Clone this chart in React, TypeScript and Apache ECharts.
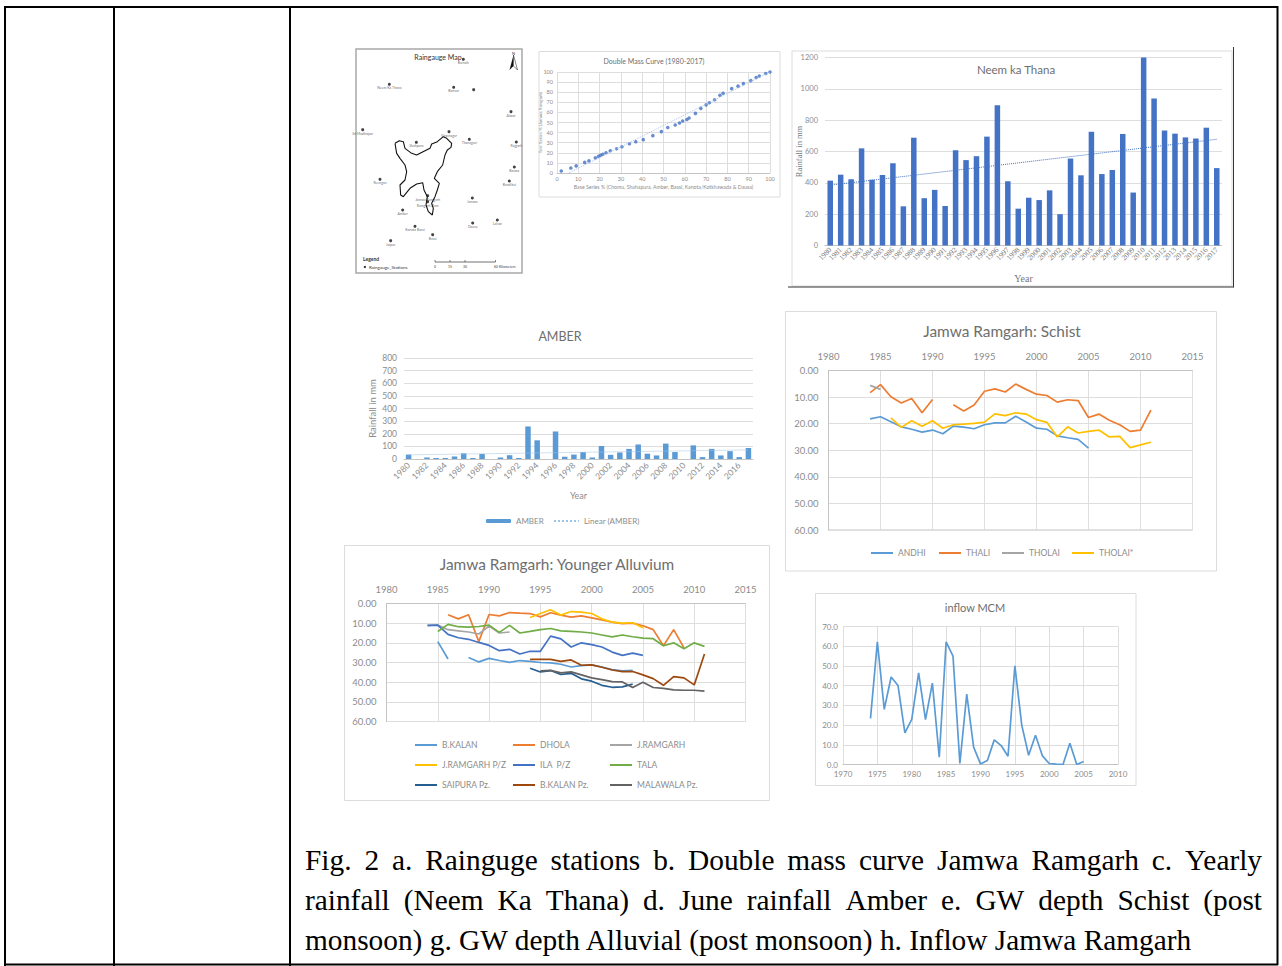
import React, { useEffect, useRef } from "react";
import * as echarts from "echarts";

// ---------- data ----------
const mapBoundary: number[][] = [[135,310],[148,302],[160,305],[165,325],[185,340],[200,345],[225,332],[240,325],[245,312],[262,305],[280,290],[290,295],[305,310],[303,322],[292,330],[285,345],[278,375],[262,395],[253,415],[268,430],[262,450],[255,470],[245,490],[250,505],[247,525],[235,515],[228,495],[232,470],[222,450],[218,428],[200,432],[180,445],[160,470],[152,465],[150,435],[165,420],[170,395],[165,375],[150,355],[140,340],[135,310]];
const mapStations: [number, number, string][] = [[340,58,"Bairath"],[118,133,"Neem Ka Thana"],[311,142,"Bansur"],[371,149,""],[483,215,"Alwar"],[38,269,"Sri Madhopur"],[297,275,"Viratnagar"],[199,307,"Shahpura"],[358,298,"Thanagazi"],[499,306,"Rajgarh"],[493,381,"Baswa"],[478,423,"Bandikui"],[90,418,"Reengus"],[367,474,"Jamwa"],[233,467,"Jamwa Ramgarh"],[233,485,"Ramgarh Dam"],[158,510,"Amber"],[195,559,"Kanota Bassi"],[368,549,"Dausa"],[442,540,"Lalsot"],[248,584,"Bassi"],[122,602,"Jaipur"]];

const dmBase = [2,6.5,9,13,15,18,19.5,20.5,21.5,23,25,28,30.5,34,37,40.5,45,49,52,55.5,57.5,59,61,62,65,67.5,70,71.5,74,76.5,78,82,85,87.5,91,93.5,95,98,100];
const dmTest = [2,5,7,10.5,12,15,16.5,17.5,18.5,20,22,24,26,29,31,33,37,41,45,47.5,49.5,51.5,53,54.5,59,64,67.5,69.5,72.5,77,79,83.5,86,88.5,91.5,94.5,96,98.5,100];
const dmTrend = [[5.5,0],[100,100]];

const neemYears = ["1980","1981","1982","1983","1984","1985","1986","1987","1988","1989","1990","1991","1992","1993","1994","1995","1996","1997","1998","1999","2000","2001","2002","2003","2004","2005","2006","2007","2008","2009","2010","2011","2012","2013","2014","2015","2016","2017"];
const neemRain = [414,452,423,620,420,450,525,250,688,302,355,252,608,545,570,695,895,410,235,305,290,352,200,555,448,726,456,482,712,338,1200,938,734,714,690,683,752,494];
const neemTrendEnds = [385,678];
const amberRain = [35,0,12,8,8,20,45,8,40,0,12,30,8,258,148,0,218,18,35,55,12,103,33,52,80,115,42,28,122,55,0,108,15,80,28,62,15,87];
const amberTrendEnds = [33,72];

const andhi = [18.2,17.4,19.3,21.2,22.1,23.2,22.4,23.8,20.9,21.3,21.9,20.4,19.7,19.7,17.2,19.4,21.7,22.1,24.6,25.3,25.9,29.2];
const thali = [8.3,5.3,9.9,12.2,10.5,15.9,10.9,null,12.9,15.2,13,7.8,6.9,8.1,5.1,7.1,8.9,9.4,11.9,11,11.3,17.7,16.4,18.7,20.4,22.9,22.4,14.9];
const tholai = [5.6,7.1];
const tholaiStar = [17.8,21.4,18.9,21,18.9,21.7,20.4,20.2,19.9,19.4,16.3,17,15.9,16.4,18.5,19.5,25,21.2,23.5,22.9,22.4,25,24.8,29,28,27];

const bKalan = [19.4,28.2,null,27.5,29.7,27.9,29,29.9,29,29.4,30,30.2,30.9,32.3,31.6,31.2,32.3,33.6,34.3,34];
const dhola = [5.7,7.8,5.7,19.4,5.6,6.3,4.6,4.9,5.1,6.8,4.7,5.9,6.9,6.3,7.3,8.3,9.5,10.3,10,11.3,13.3,21.5,13.3,22.6];
const jRamgarh = [11,11,13.3,13.9,14.5,15.5,11.5,15,14.5];
const jRamgarhPz = [7.1,5.1,3.2,5.9,4.1,4.4,5.1,7.8,9.5,10,9.8,12.3];
const ilaPz = [11.3,11,15.7,17.4,18.2,19.8,21.3,24,23.3,25.7,24.3,24.3,16.6,18,22.1,20,20.9,22.1,24.7,26.4,25.2,26.4];
const tala = [14.2,10.6,11.8,12,11.7,11,14.7,11.1,15,14.2,13.3,12.7,13.9,14.2,14.5,15,16,17,16,16.9,17.6,17.9,21.5,20,23,20,21.8];
const saipuraPz = [32.9,34.8,34.1,36.1,35.5,38.3,39.5,41.6,42.6,42.4,41];
const bKalanPz = [28.4,28.4,28.4,29.4,28.7,31.4,31.2,32.4,33.8,34.6,34.6,36.3,38.2,41.6,37.2,37.8,41.4,25.7];
const malawalaPz = [34.3,34,35.3,34.8,36.3,37.8,38.7,39.7,39.9,42.7,40,42.7,43.2,43.9,44.1,44.1,44.6];

const inflow = [23.4,62.2,28,44.4,40.1,16,22.9,46.5,22.8,41.3,3.7,62.2,55,0.5,35.7,8.8,0.3,2,12.5,9.6,4.2,50,20,4.7,14.8,4.4,0.5,0.2,0,10.8,0,1.5];

const captionLines = [
  "Fig. 2 a. Rainguge stations b. Double mass curve Jamwa Ramgarh c. Yearly",
  "rainfall (Neem Ka Thana) d. June rainfall Amber e. GW depth Schist (post",
  "monsoon) g. GW depth Alluvial (post monsoon) h. Inflow Jamwa Ramgarh",
];

// ---------- helpers ----------
const SANS = "Lato, 'Noto Sans', sans-serif";
const SERIF = "'Liberation Serif', serif";
const TICK = "#8c8c8c";
const GRID = "#dedede";
const pairs = (start: number, vals: (number | null)[]) => vals.map((v, i) => [start + i, v]);
const ends = (n: number, e: number[]) => Array.from({ length: n }, (_, i) => (i === 0 ? e[0] : i === n - 1 ? e[1] : null));
const plain = (v: number) => String(v);

function hiddenAxis(gridIndex: number, min: number, max: number, inverse = false) {
  return { type: "value", gridIndex, min, max, inverse, show: false };
}
function valX(gridIndex: number, min: number, max: number, interval: number, fontSize: number, extra: any = {}) {
  return {
    type: "value", gridIndex, min, max, interval,
    axisLine: { show: true, lineStyle: { color: "#c4c4c4" } }, axisTick: { show: false },
    axisLabel: { fontSize, color: TICK, fontFamily: SANS, formatter: plain, margin: 5 },
    splitLine: { show: true, lineStyle: { color: GRID, width: 1 } }, ...extra,
  };
}
function valY(gridIndex: number, min: number, max: number, interval: number, fontSize: number, extra: any = {}) {
  return {
    type: "value", gridIndex, min, max, interval,
    axisLine: { show: false }, axisTick: { show: false },
    axisLabel: { fontSize, color: TICK, fontFamily: SANS, formatter: plain, margin: 7 },
    splitLine: { show: true, lineStyle: { color: GRID, width: 1 } }, ...extra,
  };
}
function title(text: string, cx: number, top: number, fontSize: number, color = "#6e6e6e") {
  return { text, left: cx, top, textAlign: "center", padding: 0, textStyle: { fontSize, fontWeight: "normal", color, fontFamily: SANS } };
}
function line(name: string, x: number, y: number, data: any[], color: string, width = 1.7, type = "solid", connectNulls = false) {
  return { type: "line", name, xAxisIndex: x, yAxisIndex: y, data, symbol: "none", connectNulls, lineStyle: { color, width, type }, itemStyle: { color }, silent: true };
}
function legendItem(name: string, left: number, cy: number, iw = 22, ih = 2, fontSize = 8.5) {
  return {
    data: [name], left, top: cy - 6, padding: 0, itemWidth: iw, itemHeight: ih, selectedMode: false,
    textStyle: { fontSize, color: "#8c8c8c", fontFamily: SANS, lineHeight: 12 },
  };
}
function gLine(x1: number, y1: number, x2: number, y2: number, stroke = "#000", lineWidth = 2) {
  return { type: "line", silent: true, shape: { x1, y1, x2, y2 }, style: { stroke, lineWidth } };
}
function gBox(x: number, y: number, width: number, height: number, stroke = "#dcdcdc", lineWidth = 1) {
  return { type: "rect", silent: true, shape: { x, y, width, height }, style: { fill: "none", stroke, lineWidth } };
}
function gText(text: string, x: number, y: number, font: string, fill = "#000", textAlign = "left") {
  return { type: "text", silent: true, x, y, style: { text, font, fill, textAlign, textVerticalAlign: "middle" } };
}

// Justified caption lines are placed word by word; the last line keeps its natural spacing.
function captionElements() {
  const font = `29.35px ${SERIF}`;
  const ctx = document.createElement("canvas").getContext("2d")!;
  ctx.font = font;
  const xL = 305, xR = 1262, ys = [860, 899.5, 940];
  const out: any[] = [];
  captionLines.forEach((ln, i) => {
    if (i === captionLines.length - 1) { out.push(gText(ln, xL, ys[i], font)); return; }
    const words = ln.split(" ");
    const total = words.reduce((s, w) => s + ctx.measureText(w).width, 0);
    const gap = (xR - xL - total) / (words.length - 1);
    let x = xL;
    words.forEach((w) => { out.push(gText(w, x, ys[i], font)); x += ctx.measureText(w).width + gap; });
  });
  return out;
}

export default function App() {
  const ref = useRef<HTMLDivElement>(null);
  useEffect(() => {
    document.body.style.margin = "0";
    const chart = echarts.init(ref.current!, undefined, { renderer: "svg" });
    const option: any = {
      animation: false,
      backgroundColor: "#fff",
      title: [
        title("Raingauge Map", 438, 53, 7, "#333"),
        title("Double Mass Curve (1980-2017)", 654, 57, 7),
        title("Neem ka Thana", 1016, 63, 11.5),
        title("AMBER", 560, 330, 12.5),
        title("Jamwa Ramgarh: Schist", 1002, 323, 15.4),
        title("Jamwa Ramgarh: Younger Alluvium", 557, 556, 15.4),
        title("inflow MCM", 975, 602, 11),
      ],
      grid: [
        { left: 350, top: 40, width: 180, height: 240 },
        { left: 557, top: 72, width: 213, height: 101 },
        { left: 825, top: 57.5, width: 397, height: 188 },
        { left: 404, top: 358, width: 349, height: 101 },
        { left: 828.5, top: 370.5, width: 364, height: 159.5 },
        { left: 386.5, top: 603.5, width: 359, height: 118 },
        { left: 843, top: 626.5, width: 275, height: 138 },
      ],
      xAxis: [
        hiddenAxis(0, 0, 540),
        valX(1, 0, 100, 10, 5.5, {
          name: "Base Series % (Chomu, Shahapura, Amber, Bassi, Kanota/Kotkhawada & Dausa)", nameLocation: "middle", nameGap: 11.5, nameMoveOverlap: false,
          nameTextStyle: { fontSize: 5.2, color: TICK, fontFamily: SANS },
          axisLabel: { fontSize: 5.5, color: TICK, fontFamily: SANS, formatter: plain, margin: 3 },
        }),
        {
          type: "category", gridIndex: 2, data: neemYears,
          axisLine: { lineStyle: { color: "#c4c4c4" } }, axisTick: { show: false },
          axisLabel: { interval: 0, rotate: 45, fontSize: 7.5, color: "#777", fontFamily: SERIF, margin: 3 },
          name: "Year", nameLocation: "middle", nameGap: 28, nameMoveOverlap: false, nameTextStyle: { fontSize: 10, color: "#777", fontFamily: SERIF },
        },
        {
          type: "category", gridIndex: 3, data: neemYears,
          axisLine: { lineStyle: { color: "#c4c4c4" } }, axisTick: { show: false },
          axisLabel: { interval: 1, rotate: 45, fontSize: 8.5, color: TICK, fontFamily: SANS, margin: 5 },
          name: "Year", nameLocation: "middle", nameGap: 32, nameMoveOverlap: false, nameTextStyle: { fontSize: 9, color: TICK, fontFamily: SANS },
        },
        valX(4, 1980, 2015, 5, 9.5, { position: "top", axisLabel: { fontSize: 9.5, color: TICK, fontFamily: SANS, formatter: plain, margin: 9 } }),
        valX(5, 1980, 2015, 5, 9.5, { position: "top", axisLabel: { fontSize: 9.5, color: TICK, fontFamily: SANS, formatter: plain, margin: 9 } }),
        valX(6, 1970, 2010, 5, 8),
      ],
      yAxis: [
        hiddenAxis(0, 0, 720, true),
        valY(1, 0, 100, 10, 5.5, {
          name: "Test Series % (Jamwa Ramgarh)", nameLocation: "middle", nameGap: 14, nameMoveOverlap: false,
          nameTextStyle: { fontSize: 4.5, color: TICK, fontFamily: SANS },
          axisLabel: { fontSize: 5.5, color: TICK, fontFamily: SANS, formatter: plain, margin: 4 },
        }),
        valY(2, 0, 1200, 200, 7.5, {
          name: "Rainfall in mm", nameLocation: "middle", nameGap: 22, nameMoveOverlap: false,
          nameTextStyle: { fontSize: 8.5, color: "#777", fontFamily: SERIF },
        }),
        valY(3, 0, 800, 100, 8.5, {
          name: "Rainfall in mm", nameLocation: "middle", nameGap: 27, nameMoveOverlap: false,
          nameTextStyle: { fontSize: 9.5, color: TICK, fontFamily: SANS },
        }),
        valY(4, 0, 60, 10, 9.5, { inverse: true, axisLine: { show: true, lineStyle: { color: "#c4c4c4" } }, axisLabel: { fontSize: 9.5, color: TICK, fontFamily: SANS, formatter: (v: number) => v.toFixed(2), margin: 10 } }),
        valY(5, 0, 60, 10, 9.5, { inverse: true, axisLine: { show: true, lineStyle: { color: "#c4c4c4" } }, axisLabel: { fontSize: 9.5, color: TICK, fontFamily: SANS, formatter: (v: number) => v.toFixed(2), margin: 10 } }),
        valY(6, 0, 70, 10, 8, { axisLabel: { fontSize: 8, color: TICK, fontFamily: SANS, formatter: (v: number) => v.toFixed(1), margin: 5 } }),
      ],
      legend: [
        legendItem("AMBER", 486, 521, 25, 4, 8),
        legendItem("Linear (AMBER)", 553, 521, 25, 2, 8),
        legendItem("ANDHI", 870, 553),
        legendItem("THALI", 938, 553),
        legendItem("THOLAI", 1001, 553),
        legendItem("THOLAI*", 1071, 553),
        legendItem("B.KALAN", 414, 745),
        legendItem("DHOLA", 512, 745),
        legendItem("J.RAMGARH", 609, 745),
        legendItem("J.RAMGARH P/Z", 414, 765),
        legendItem("ILA  P/Z", 512, 765),
        legendItem("TALA", 609, 765),
        legendItem("SAIPURA Pz.", 414, 785),
        legendItem("B.KALAN Pz.", 512, 785),
        legendItem("MALAWALA Pz.", 609, 785),
      ],
      series: [
        // a. raingauge map
        { ...line("Jamwa Ramgarh catchment", 0, 0, mapBoundary, "#111", 1.1) },
        {
          type: "scatter", name: "Raingauge stations", xAxisIndex: 0, yAxisIndex: 0, symbol: "circle", symbolSize: 3, silent: true,
          itemStyle: { color: "#111" },
          data: mapStations.map((s) => ({ name: s[2], value: [s[0], s[1]] })),
          label: { show: true, position: "bottom", distance: 0.5, fontSize: 3.5, color: "#444", fontFamily: SANS, formatter: (p: any) => p.name },
        },
        // b. double mass
        line("Trend", 1, 1, dmTrend, "#a9c4ea", 1, "dotted"),
        { type: "scatter", name: "Double mass", xAxisIndex: 1, yAxisIndex: 1, symbolSize: 3.6, silent: true, itemStyle: { color: "#4472c4" }, data: dmBase.map((b, i) => [b, dmTest[i]]) },
        // c. Neem ka Thana
        { type: "bar", name: "Neem ka Thana", xAxisIndex: 2, yAxisIndex: 2, data: neemRain, barWidth: 5.5, silent: true, itemStyle: { color: "#4472c4" } },
        line("Linear (Neem ka Thana)", 2, 2, ends(neemYears.length, neemTrendEnds), "#4472c4", 1, "dotted", true),
        // d. Amber
        { type: "bar", name: "AMBER", xAxisIndex: 3, yAxisIndex: 3, data: amberRain, barWidth: 5.5, silent: true, itemStyle: { color: "#5b9bd5" } },
        line("Linear (AMBER)", 3, 3, ends(neemYears.length, amberTrendEnds), "#9dc3e6", 1, "dotted", true),
        // e. Schist
        line("ANDHI", 4, 4, pairs(1984, andhi), "#5b9bd5"),
        line("THALI", 4, 4, pairs(1984, thali), "#ed7d31"),
        line("THOLAI", 4, 4, pairs(1984, tholai), "#a5a5a5"),
        line("THOLAI*", 4, 4, pairs(1986, tholaiStar), "#ffc000"),
        // g. Alluvium
        line("B.KALAN", 5, 5, pairs(1985, bKalan), "#5b9bd5"),
        line("DHOLA", 5, 5, pairs(1986, dhola), "#ed7d31"),
        line("J.RAMGARH", 5, 5, pairs(1984, jRamgarh), "#a5a5a5"),
        line("J.RAMGARH P/Z", 5, 5, pairs(1994, jRamgarhPz), "#ffc000"),
        line("ILA  P/Z", 5, 5, pairs(1984, ilaPz), "#4472c4"),
        line("TALA", 5, 5, pairs(1985, tala), "#70ad47"),
        line("SAIPURA Pz.", 5, 5, pairs(1994, saipuraPz), "#255e91"),
        line("B.KALAN Pz.", 5, 5, pairs(1994, bKalanPz), "#9e480e"),
        line("MALAWALA Pz.", 5, 5, pairs(1995, malawalaPz), "#636363"),
        // h. inflow
        line("inflow MCM", 6, 6, pairs(1974, inflow), "#5b9bd5"),
      ],
      graphic: {
        elements: [
          // table rules
          gLine(4, 7, 1278, 7), gLine(4, 964.5, 1278, 964.5),
          gLine(5, 6, 5, 966), gLine(114, 6, 114, 966), gLine(290, 6, 290, 966), gLine(1277.5, 6, 1277.5, 965),
          // panel frames
          gBox(356, 49, 166, 224, "#a8a8a8", 1.5),
          gBox(539, 51.5, 241, 145.5),
          gBox(792, 51, 440, 235),
          gBox(785.5, 311.5, 431, 259.5),
          gBox(344.5, 545.5, 425, 255),
          gBox(815.5, 593.5, 320.5, 192),
          gLine(788, 287, 1233.5, 287, "#333", 1), gLine(1233.5, 47, 1233.5, 287.5, "#333", 1),
          // plot frames
          gLine(828.5, 530, 1192.5, 530, "#c4c4c4", 1), gLine(386.5, 721.5, 745.5, 721.5, "#c4c4c4", 1),
          // map furniture
          { type: "polygon", silent: true, shape: { points: [[513.5, 55], [509.5, 70], [513.5, 66]] }, style: { fill: "#111" } },
          { type: "polygon", silent: true, shape: { points: [[513.5, 55], [517.5, 70], [513.5, 66]] }, style: { fill: "#fff", stroke: "#111", lineWidth: 0.5 } },
          gText("N", 513.5, 53, `4px ${SANS}`, "#333", "center"),
          gText("Legend", 363, 259, `bold 5px ${SANS}`, "#333"),
          { type: "circle", silent: true, shape: { cx: 364.8, cy: 267, r: 1 }, style: { fill: "#111" } },
          gText("Raingauge_Stations", 369, 267, `4.5px ${SANS}`, "#333"),
          gLine(435, 262, 495.5, 262, "#333", 0.7),
          gLine(435, 260, 435, 262, "#333", 0.6), gLine(450, 260, 450, 262, "#333", 0.6), gLine(465, 260, 465, 262, "#333", 0.6), gLine(495.5, 260, 495.5, 262, "#333", 0.6),
          gText("0", 435, 267, `3.5px ${SANS}`, "#444", "center"),
          gText("15", 450, 267, `3.5px ${SANS}`, "#444", "center"),
          gText("30", 465, 267, `3.5px ${SANS}`, "#444", "center"),
          gText("60 Kilometers", 494, 267, `3.5px ${SANS}`, "#444"),
          ...captionElements(),
        ],
      },
    };
    chart.setOption(option);
    return () => chart.dispose();
  }, []);
  return <div ref={ref} style={{ position: "absolute", left: 0, top: 0, width: 1282, height: 966, background: "#fff" }} />;
}
